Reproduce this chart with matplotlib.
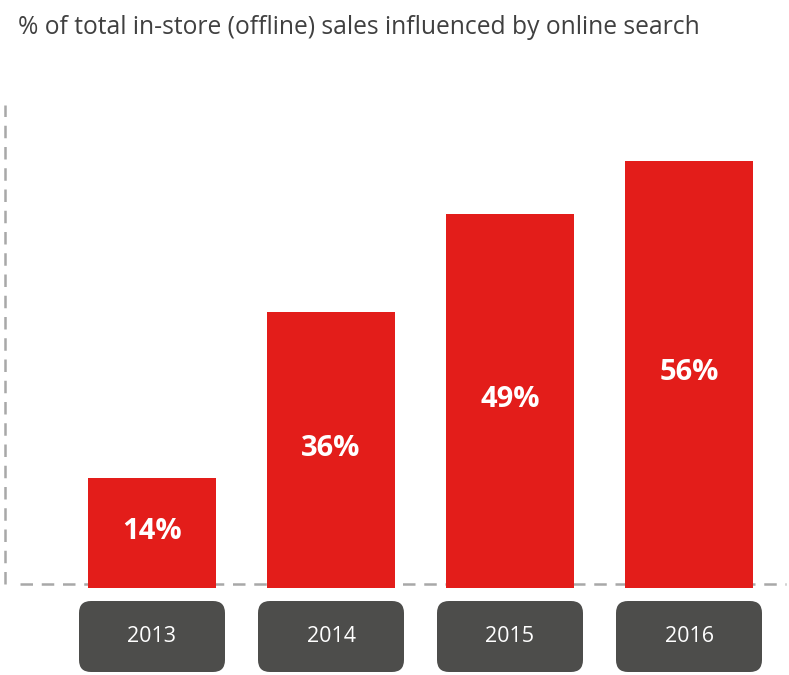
import matplotlib.pyplot as plt
from matplotlib.patches import FancyBboxPatch

years = ['2013', '2014', '2015', '2016']
share = [14, 36, 49, 56]
title = '% of total in-store (offline) sales influenced by online search'

red = '#E31D1A'
box_grey = '#4D4D4B'
dash_grey = '#A8A8A8'

W, H = 789, 675
px_x = 179.0   # pixels per category step
px_y = 7.55    # pixels per percentage point
x0_px = 152.0  # centre of first bar
base_px = 584.0

fig = plt.figure(figsize=(W / 100, H / 100), dpi=100)
ax = fig.add_axes([0, 0, 1, 1])
ax.set_xlim((0 - x0_px) / px_x, (W - x0_px) / px_x)
ax.set_ylim((base_px - H) / px_y, base_px / px_y)
ax.axis('off')

xs = list(range(len(years)))

# baseline + left guide
ax.plot([(20 - x0_px) / px_x, (786 - x0_px) / px_x], [0, 0], color=dash_grey,
        lw=1.8, dashes=(5, 3.5), zorder=1)
ax.plot([(5 - x0_px) / px_x] * 2, [0, 479 / px_y], color=dash_grey,
        lw=1.8, dashes=(5, 3.5), zorder=1)

below = -0.5
ax.bar(xs, [v - below for v in share], bottom=below, width=0.72, color=red, zorder=2)

for x, v in zip(xs, share):
    ax.text(x, v / 2, f'{v}%', ha='center', va='center', color='white',
            fontsize=21, fontweight='bold', family='Open Sans', zorder=3)

# year label boxes
bw = 146 / px_x
top = -17 / px_y
bh = 71 / px_y
for x, yr in zip(xs, years):
    box = FancyBboxPatch((x - bw / 2, top - bh), bw, bh,
                         boxstyle='round,pad=0,rounding_size=%f' % (12 / px_x),
                         mutation_aspect=px_x / px_y, fc=box_grey, ec='none', zorder=2)
    ax.add_patch(box)
    ax.text(x, top - bh / 2, yr, ha='center', va='center', color='white',
            fontsize=15.5, family='Open Sans', zorder=3)

fig.text(18 / W, 1 - 27 / H, title, ha='left', va='center', fontsize=17.7,
         color='#404040', family='Open Sans')

fig.savefig('out.png', dpi=100)
